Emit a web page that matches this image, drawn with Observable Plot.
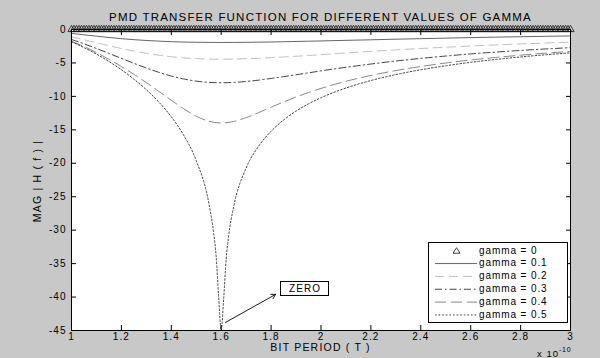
<!DOCTYPE html>
<html><head><meta charset="utf-8">
<script src="https://cdn.jsdelivr.net/npm/d3@7"></script>
<script src="https://cdn.jsdelivr.net/npm/@observablehq/plot@0.6"></script>
<style>
body{margin:0;background:#c8c8c8;}
#wrap{position:relative;width:600px;height:358px;background:#c8c8c8;font-family:"Liberation Sans",Arial,sans-serif;color:#000;overflow:hidden}
#wrap svg{position:absolute;left:0;top:0;}
.t{position:absolute;white-space:nowrap;font-size:10px;line-height:1;letter-spacing:0.9px}
#legend{position:absolute;background:#fff;border:1px solid #000;box-sizing:border-box}
#zero{position:absolute;background:#fff;border:1px solid #000;box-sizing:border-box;font-size:10px;letter-spacing:1.1px;text-align:center;line-height:13px;padding-left:1px}
</style></head><body><div id="wrap"></div>
<script>
// ---- data ----
const chartTitle = "PMD TRANSFER FUNCTION FOR DIFFERENT VALUES OF GAMMA";
const xLabel = "BIT PERIOD ( T )";
const yLabel = "MAG | H ( f ) |";
const seriesNames = ["gamma = 0","gamma = 0.1","gamma = 0.2","gamma = 0.3","gamma = 0.4","gamma = 0.5"];

const xTicks = [1,1.2,1.4,1.6,1.8,2,2.2,2.4,2.6,2.8,3];
const xTickLabels = ["1","1.2","1.4","1.6","1.8","2","2.2","2.4","2.6","2.8","3"];
const yTicks = [0,-5,-10,-15,-20,-25,-30,-35,-40,-45];
const yTickLabels = ["0","-5","-10","-15","-20","-25","-30","-35","-40","-45"];

// gamma = 0 : flat at 0 dB, drawn with triangle markers
const bitPeriodG0 = [1,1.01,1.02,1.03,1.04,1.05,1.06,1.07,1.08,1.09,1.1,1.11,1.12,1.13,1.14,1.15,1.16,1.17,1.18,1.19,1.2,1.21,1.22,1.23,1.24,1.25,1.26,1.27,1.28,1.29,1.3,1.31,1.32,1.33,1.34,1.35,1.36,1.37,1.38,1.39,1.4,1.41,1.42,1.43,1.44,1.45,1.46,1.47,1.48,1.49,1.5,1.51,1.52,1.53,1.54,1.55,1.56,1.57,1.58,1.59,1.6,1.61,1.62,1.63,1.64,1.65,1.66,1.67,1.68,1.69,1.7,1.71,1.72,1.73,1.74,1.75,1.76,1.77,1.78,1.79,1.8,1.81,1.82,1.83,1.84,1.85,1.86,1.87,1.88,1.89,1.9,1.91,1.92,1.93,1.94,1.95,1.96,1.97,1.98,1.99,2,2.01,2.02,2.03,2.04,2.05,2.06,2.07,2.08,2.09,2.1,2.11,2.12,2.13,2.14,2.15,2.16,2.17,2.18,2.19,2.2,2.21,2.22,2.23,2.24,2.25,2.26,2.27,2.28,2.29,2.3,2.31,2.32,2.33,2.34,2.35,2.36,2.37,2.38,2.39,2.4,2.41,2.42,2.43,2.44,2.45,2.46,2.47,2.48,2.49,2.5,2.51,2.52,2.53,2.54,2.55,2.56,2.57,2.58,2.59,2.6,2.61,2.62,2.63,2.64,2.65,2.66,2.67,2.68,2.69,2.7,2.71,2.72,2.73,2.74,2.75,2.76,2.77,2.78,2.79,2.8,2.81,2.82,2.83,2.84,2.85,2.86,2.87,2.88,2.89,2.9,2.91,2.92,2.93,2.94,2.95,2.96,2.97,2.98,2.99,3];
const magG0 = 0;

const bitPeriod = [1.00,1.05,1.10,1.15,1.20,1.25,1.30,1.35,1.40,1.45,1.50,1.55,1.60,1.65,1.70,1.75,1.80,1.85,1.90,1.95,2.00,2.10,2.20,2.30,2.40,2.50,2.60,2.70,2.80,2.90,3.00];
const magG01 = [-0.58,-0.79,-1.00,-1.19,-1.37,-1.52,-1.64,-1.74,-1.82,-1.88,-1.91,-1.93,-1.94,-1.93,-1.92,-1.89,-1.87,-1.83,-1.79,-1.75,-1.71,-1.62,-1.54,-1.45,-1.37,-1.29,-1.21,-1.14,-1.08,-1.02,-0.96];
const magG02 = [-1.09,-1.53,-1.98,-2.42,-2.84,-3.22,-3.56,-3.84,-4.07,-4.24,-4.35,-4.42,-4.44,-4.42,-4.37,-4.30,-4.21,-4.11,-4.00,-3.88,-3.76,-3.51,-3.28,-3.05,-2.84,-2.65,-2.47,-2.30,-2.16,-2.02,-1.89];
const magG03 = [-1.49,-2.14,-2.84,-3.57,-4.32,-5.05,-5.76,-6.40,-6.96,-7.40,-7.72,-7.90,-7.96,-7.91,-7.77,-7.57,-7.32,-7.05,-6.77,-6.48,-6.19,-5.65,-5.16,-4.71,-4.32,-3.97,-3.65,-3.38,-3.13,-2.91,-2.71];
const magG04 = [-1.75,-2.55,-3.45,-4.45,-5.53,-6.70,-7.94,-9.25,-10.58,-11.86,-12.97,-13.72,-13.98,-13.75,-13.17,-12.42,-11.62,-10.83,-10.10,-9.42,-8.81,-7.74,-6.87,-6.14,-5.53,-5.01,-4.56,-4.18,-3.84,-3.54,-3.28];
const bitPeriodG05 = [1.00,1.05,1.10,1.15,1.20,1.25,1.30,1.35,1.40,1.45,1.50,1.55,1.57,1.58,1.59,1.60,1.61,1.62,1.63,1.65,1.70,1.75,1.80,1.85,1.90,1.95,2.00,2.10,2.20,2.30,2.40,2.50,2.60,2.70,2.80,2.90,3.00];
const magG05 = [-1.84,-2.70,-3.68,-4.78,-6.02,-7.42,-9.00,-10.85,-13.05,-15.83,-19.61,-25.9,-30.5,-34.0,-40.1,-45,-40.2,-34.3,-30.8,-26.5,-20.7,-17.44,-15.21,-13.53,-12.20,-11.11,-10.20,-8.75,-7.63,-6.74,-6.02,-5.42,-4.91,-4.48,-4.10,-3.78,-3.49];

// annotation "ZERO" (data units)
const zeroLabel = {text: "ZERO", x: 1.936, y: -38.8};
const zeroArrow = {x1: 1.617, y1: -43.8, x2: 1.818, y2: -39.6};

// ---- styles ----
const lineStyles = [
  null,
  {stroke: "#555555", dash: null},
  {stroke: "#b8b8b8", dash: "9,5"},
  {stroke: "#2c2c2c", dash: "7,3,1.5,3"},
  {stroke: "#7a7a7a", dash: "11,5"},
  {stroke: "#2c2c2c", dash: "1.6,2"}
];

const series = [
  {name: seriesNames[1], xs: bitPeriod, ys: magG01},
  {name: seriesNames[2], xs: bitPeriod, ys: magG02},
  {name: seriesNames[3], xs: bitPeriod, ys: magG03},
  {name: seriesNames[4], xs: bitPeriod, ys: magG04},
  {name: seriesNames[5], xs: bitPeriodG05, ys: magG05}
];

const markerRows = bitPeriodG0.map(x => ({x, y: magG0}));

const lineMarks = series.map((s, k) => {
  const st = lineStyles[k + 1];
  const rows = s.xs.map((x, i) => ({x, y: s.ys[i]}));
  return Plot.line(rows, {x: "x", y: "y", curve: "monotone-x", stroke: st.stroke, strokeWidth: 0.9, strokeDasharray: st.dash});
});

const W = 600, H = 358;
const plot = Plot.plot({
  width: W, height: H,
  marginLeft: 71, marginRight: 30, marginTop: 29, marginBottom: 28,
  style: "background: transparent; font-family: 'Liberation Sans', Arial, sans-serif; font-size: 10px; letter-spacing: 1.1px; color: #000;",
  x: {domain: [1, 3], axis: null},
  y: {domain: [-45, 0], axis: null},
  marks: [
    Plot.frame({fill: "#fff", stroke: null}),
    ...lineMarks,
    Plot.arrow([zeroArrow], {x1: "x1", y1: "y1", x2: "x2", y2: "y2", stroke: "#000", strokeWidth: 0.9, headLength: 8, bend: 0}),
    Plot.frame({stroke: "#000", strokeWidth: 1}),
    Plot.dot(markerRows, {x: "x", y: "y", symbol: "triangle", r: 2.7, stroke: "#111", strokeWidth: 0.75, fill: "none"}),
    Plot.axisX({anchor: "bottom", ticks: xTicks, tickSize: -5, tickPadding: 7.4, tickFormat: d => xTickLabels[xTicks.indexOf(d)], label: null, fontSize: 10}),
    Plot.axisX({anchor: "top", ticks: xTicks, tickSize: -5, tickFormat: () => "", label: null}),
    Plot.axisY({anchor: "left", ticks: yTicks, tickSize: -5, tickPadding: 9.8, tickFormat: d => yTickLabels[yTicks.indexOf(d)], label: null, fontSize: 10}),
    Plot.axisY({anchor: "right", ticks: yTicks, tickSize: -5, tickFormat: () => "", label: null})
  ]
});

const wrap = document.getElementById("wrap");
wrap.appendChild(plot);
const sx = plot.scale("x"), sy = plot.scale("y");
const pLeft = sx.apply(1), pRight = sx.apply(3), pTop = sy.apply(0), pBottom = sy.apply(-45);

function addText(txt, css, html) {
  const d = document.createElement("div");
  d.className = "t";
  if (html) d.innerHTML = txt; else d.textContent = txt;
  Object.assign(d.style, css);
  wrap.appendChild(d);
  return d;
}
// title
addText(chartTitle, {left: pLeft + "px", width: (pRight - pLeft) + "px", textAlign: "center", top: "12.4px", fontSize: "11.5px", letterSpacing: "1.2px"});
// x label
addText(xLabel, {left: pLeft + "px", width: (pRight - pLeft) + "px", textAlign: "center", top: (pBottom + 12) + "px", fontSize: "10.5px", letterSpacing: "1.2px"});
// exponent
addText('x 10<sup style="font-size:7px;vertical-align:5px;letter-spacing:0.8px">-10</sup>', {left: "537px", top: (pBottom + 15.8) + "px", fontSize: "9.5px", letterSpacing: "1px"}, true);
// y label
addText(yLabel, {left: "37px", top: ((pTop + pBottom) / 2 + 1.5) + "px", fontSize: "10.5px", letterSpacing: "1.2px", transform: "translate(-50%,-50%) rotate(-90deg)"});

// ZERO box
const zb = document.createElement("div");
zb.id = "zero"; zb.textContent = zeroLabel.text;
Object.assign(zb.style, {left: (sx.apply(zeroLabel.x) - 24.5) + "px", top: (sy.apply(zeroLabel.y) - 7.5) + "px", width: "49px", height: "15px"});
wrap.appendChild(zb);

// legend
const lg = document.createElement("div");
lg.id = "legend";
Object.assign(lg.style, {left: "428px", top: "242px", width: "140px", height: "81px"});
wrap.appendChild(lg);
const ns = "http://www.w3.org/2000/svg";
const ov = document.createElementNS(ns, "svg");
ov.setAttribute("width", W); ov.setAttribute("height", H);
ov.style.pointerEvents = "none";
wrap.appendChild(ov);
seriesNames.forEach((name, i) => {
  const cy = 250.7 + 12.85 * i;
  if (i === 0) {
    const p = document.createElementNS(ns, "path");
    p.setAttribute("d", `M456.5,${cy - 3} L460,${cy + 2.5} L453,${cy + 2.5} Z`);
    p.setAttribute("fill", "none"); p.setAttribute("stroke", "#111"); p.setAttribute("stroke-width", "0.8");
    ov.appendChild(p);
  } else {
    const l = document.createElementNS(ns, "line");
    l.setAttribute("x1", "435"); l.setAttribute("x2", "477"); l.setAttribute("y1", cy); l.setAttribute("y2", cy);
    l.setAttribute("stroke", lineStyles[i].stroke); l.setAttribute("stroke-width", "0.9");
    if (lineStyles[i].dash) l.setAttribute("stroke-dasharray", lineStyles[i].dash);
    ov.appendChild(l);
  }
  addText(name, {left: "479px", top: (cy - 5.1) + "px"});
});
</script></body></html>
